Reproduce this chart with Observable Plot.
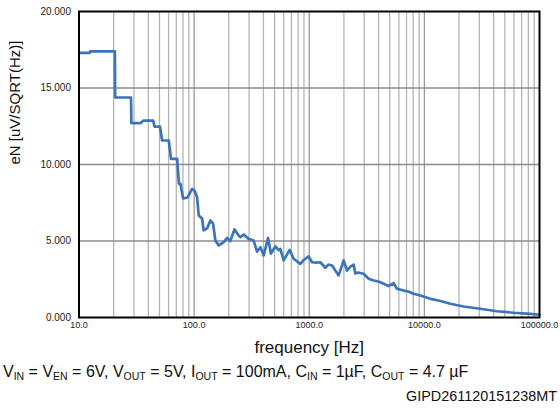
<!DOCTYPE html>
<html>
<head>
<meta charset="utf-8">
<script src="https://cdn.jsdelivr.net/npm/d3@7"></script>
<script src="https://cdn.jsdelivr.net/npm/@observablehq/plot@0.6"></script>
<style>
  html, body { margin: 0; padding: 0; background: #fff; }
  #wrap { position: relative; width: 560px; height: 411px; font-family: "Liberation Sans", Arial, sans-serif; color: #111; }
  #cap { position: absolute; left: 3px; top: 363px; font-size: 16px; white-space: nowrap; }
  #cap sub { font-size: 10.5px; vertical-align: -3px; line-height: 0; }
  #code { position: absolute; right: 3px; top: 388px; font-size: 14.4px; white-space: nowrap; }
</style>
</head>
<body>
<div id="wrap">
  <div id="chart"></div>
  <div id="cap">V<sub>IN</sub> = V<sub>EN</sub> = 6V, V<sub>OUT</sub> = 5V, I<sub>OUT</sub> = 100mA, C<sub>IN</sub> = 1µF, C<sub>OUT</sub> = 4.7 µF</div>
  <div id="code">GIPD261120151238MT</div>
</div>
<script>
// Data
const frequency = [10, 12.4, 12.5, 20.5, 20.6, 28.3, 28.5, 34.2, 36.3, 44.1, 45.2, 50.5, 52.7, 60.2, 63, 71.2, 73.8, 76.1, 80.2, 87.4, 96.1, 100.7, 106, 109.6, 117.3, 121, 129.6, 138.5, 146.1, 153, 163.5, 180.9, 193.3, 206.5, 223.8, 243.8, 253, 269, 297.6, 328.8, 352, 376.5, 402, 438.5, 464.5, 508, 542, 561, 599.5, 676, 732, 837, 906, 988, 1057, 1153, 1248, 1380, 1465, 1578, 1686, 1800, 1990, 2130, 2275, 2430, 2513, 2668, 2965, 3280, 3625, 3981, 4426, 4864, 5408, 5782, 6603, 7245, 8056, 9208, 11260, 13280, 16780, 21880, 30550, 42660, 59430, 82960, 100000];
const noise = [17.30, 17.30, 17.39, 17.39, 14.38, 14.38, 12.70, 12.70, 12.87, 12.87, 12.48, 12.48, 11.57, 11.57, 10.37, 10.37, 8.74, 8.74, 7.78, 7.84, 8.41, 8.30, 7.88, 6.67, 6.47, 5.69, 5.82, 6.34, 6.14, 5.03, 4.71, 4.92, 5.20, 5.00, 5.76, 5.36, 5.25, 5.42, 5.14, 5.03, 4.31, 4.59, 4.05, 5.20, 4.18, 4.64, 4.41, 4.49, 3.73, 4.42, 3.84, 3.51, 3.79, 3.99, 3.61, 3.59, 3.61, 3.25, 3.46, 3.40, 3.07, 2.75, 3.73, 3.07, 3.33, 3.46, 2.88, 2.94, 2.86, 2.53, 2.42, 2.35, 2.20, 2.06, 2.24, 1.88, 1.76, 1.70, 1.55, 1.44, 1.22, 1.11, 0.90, 0.72, 0.57, 0.41, 0.31, 0.24, 0.18];

const xTicks = [10, 100, 1000, 10000, 100000];
const yTicks = [0, 5, 10, 15, 20];
const minorMultipliers = [2, 3, 4, 5, 6, 7, 8, 9];
const xLabel = "frequency [Hz]";
const yLabel = "eN [uV/SQRT(Hz)]";

const minorTicks = xTicks.slice(0, -1).flatMap(d => minorMultipliers.map(m => d * m));
const data = frequency.map((f, i) => ({f, v: noise[i]}));

const chart = Plot.plot({
  width: 560,
  height: 360,
  marginLeft: 78.5,
  marginRight: 21,
  marginTop: 11,
  marginBottom: 43,
  style: { fontFamily: "'Liberation Sans', Arial, sans-serif", background: "transparent" },
  x: { type: "log", domain: [10, 100000] },
  y: { domain: [0, 20] },
  marks: [
    Plot.ruleX(minorTicks, { stroke: "#b4b4b4", strokeWidth: 1.3 }),
    Plot.ruleX(xTicks.slice(1, -1), { stroke: "#999", strokeWidth: 1.3 }),
    Plot.ruleY(yTicks.slice(1, -1), { stroke: "#8c8c8c", strokeWidth: 1.5 }),
    Plot.axisX({ ticks: xTicks, tickFormat: d3.format(".1f"), tickSize: 0, tickPadding: 4, fontSize: 9, label: null, fill: "#222" }),
    Plot.axisY({ ticks: yTicks, tickFormat: d3.format(".3f"), tickSize: 0, tickPadding: 8, fontSize: 10, label: null, fill: "#222" }),
    Plot.line(data, { x: "f", y: "v", stroke: "#3c74bb", strokeWidth: 2.7, strokeLinejoin: "round" }),
    Plot.frame({ stroke: "#000", strokeWidth: 2 }),
    Plot.text([xLabel], { frameAnchor: "bottom", dy: 35, fontSize: 17, fill: "#111" }),
    Plot.text([yLabel], { frameAnchor: "left", rotate: -90, dx: -64, fontSize: 15, fill: "#111" })
  ]
});
document.getElementById("chart").appendChild(chart);
</script>
</body>
</html>
